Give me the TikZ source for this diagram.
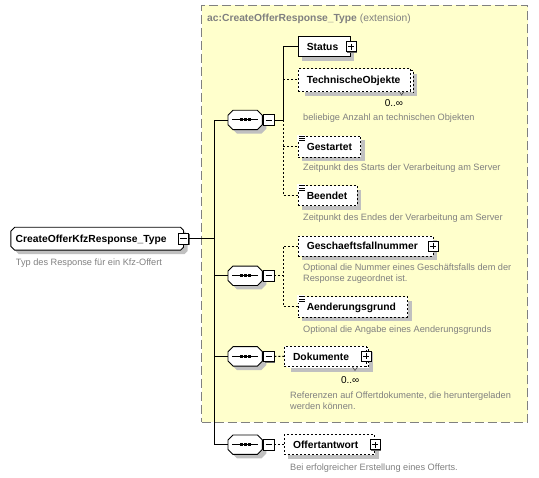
\documentclass[tikz,border=0pt]{standalone}
\usepackage{fontspec}
\setmainfont{Liberation Sans}
\usetikzlibrary{fit}
\definecolor{ybg}{HTML}{FFFFCC}
\definecolor{shgray}{HTML}{C0C0C0}
\definecolor{bordergray}{HTML}{808080}
\definecolor{descgray}{HTML}{808080}
\definecolor{titlegray}{HTML}{808080}
\tikzset{
  ln/.style={line width=0.9pt},
  opt/.style={dash pattern=on 2pt off 2pt},
  shadowfour/.style={preaction={fill=shgray, transform canvas={xshift=4pt, yshift=-4pt}}},
  extbox/.style={draw=bordergray, line width=0.9pt, dash pattern=on 9pt off 4pt, fill=ybg, inner sep=0pt},
  elembox/.style={draw, fill=white, line width=0.9pt, inner sep=0pt, shadowfour},
  elemns/.style={draw, fill=white, line width=0.9pt, inner sep=0pt},
  backbox/.style={fill=white, inner sep=0pt, shadowfour},
  seqn/.style={minimum width=34pt, minimum height=19pt, inner sep=0pt},
  lbl/.style={inner sep=0pt, anchor=west, text height=7.4pt, text depth=0pt,
    font=\fontsize{10.3}{12}\selectfont\bfseries},
  desc/.style={inner sep=0pt, anchor=base west, text=descgray,
    font=\fontsize{9.2}{11}\selectfont},
  mult/.style={inner sep=0pt, anchor=base east, font=\fontsize{10}{12}\selectfont},
  pmbox/.style={draw, fill=white, line width=0.8pt, solid, minimum size=10pt, inner sep=0pt,
    preaction={fill=black!60, transform canvas={xshift=1pt, yshift=-1pt}}},
  pmplus/.style={pmbox, path picture={\draw[line width=0.8pt]
    ([xshift=2pt]path picture bounding box.west) -- ([xshift=-2pt]path picture bounding box.east)
    ([yshift=-2pt]path picture bounding box.north) -- ([yshift=2pt]path picture bounding box.south);}},
  pmminus/.style={pmbox, path picture={\draw[line width=0.8pt]
    ([xshift=2pt]path picture bounding box.west) -- ([xshift=-2pt]path picture bounding box.east);}},
}
\newcommand\seqshape[1]{%
  \draw[ln, fill=white, shadowfour]
    ([xshift=5pt]#1.north west) -- ([xshift=-5pt]#1.north east) -- ([yshift=-5pt]#1.north east)
    -- ([yshift=5pt]#1.south east) -- ([xshift=-5pt]#1.south east) -- ([xshift=5pt]#1.south west)
    -- ([yshift=5pt]#1.south west) -- ([yshift=-5pt]#1.north west) -- cycle;
  \draw[line width=1pt] ([xshift=4pt]#1.west) -- ([xshift=-4pt]#1.east);
  \foreach \dx in {-4,0,4} {\fill ([xshift=\dx pt]#1.center) +(-1.6pt,-1.5pt) rectangle +(1.6pt,1.5pt);}
}
\newcommand\docicon[1]{%
  \fill[white] ([xshift=-1pt,yshift=1pt]#1.north west) rectangle ++(8.5pt,-7.5pt);
  \draw[line width=0.7pt] ([xshift=1.5pt,yshift=-0.5pt]#1.north west) -- ++(5.5pt,0pt)
    ([xshift=1.5pt,yshift=-2.8pt]#1.north west) -- ++(5.5pt,0pt)
    ([xshift=1.5pt,yshift=-5.1pt]#1.north west) -- ++(5.5pt,0pt);
}
\begin{document}
\begin{tikzpicture}[x=1pt,y=-1pt]
\useasboundingbox (0,0) rectangle (539,478);

% extension area
\node[extbox, fit={(201.5,5) (527.5,422.3)}] (ext) {};
\node[anchor=base west, inner sep=0pt, text=titlegray, font=\fontsize{10.3}{12}\selectfont\bfseries]
  (title) at (207,22) {ac:CreateOfferResponse\_Type \mdseries(extension)};

% main type
\node[fit={(11,227.5) (183.3,250)}, inner sep=0pt] (main) {};
\draw[ln, fill=white, shadowfour]
  ([xshift=4pt]main.north west) -- ([xshift=-3pt]main.north east) -- ([yshift=-3pt]main.north east)
  -- ([yshift=3pt]main.south east) -- ([xshift=-3pt]main.south east) -- ([xshift=4pt]main.south west)
  -- ([yshift=4pt]main.south west) -- ([yshift=-4pt]main.north west) -- cycle;
\node[lbl] (main-t) at ([xshift=4.7pt]main.west) {CreateOfferKfzResponse\_Type};
\node[pmminus, minimum size=10.5pt] (main-m) at (main.east) {};
\node[desc] (main-d) at (15.7,266) {Typ des Response für ein Kfz-Offert};

% trunk
\coordinate (trunk) at (214.3,0);
\coordinate (itr) at (283.3,0);

% sequences
\node[seqn] (s1) at (245.2,120) {};
\node[seqn] (s2) at (245.2,275.8) {};
\node[seqn] (s3) at (245.2,356.4) {};
\node[seqn] (s4) at (245.2,444.7) {};
\draw[ln] (main-m.east) -- (main-m.east -| trunk);
\draw[ln] (s1.west) -- (s1.west -| trunk) -- (s4.west -| trunk) -- (s4.west);
\draw[ln] (s2.west -| trunk) -- (s2.west);
\draw[ln] (s3.west -| trunk) -- (s3.west);
\seqshape{s1}
\seqshape{s2}
\seqshape{s3}
\seqshape{s4}
\node[pmminus, minimum size=10.5pt] (s1-m) at (268.8,120) {};
\node[pmminus, minimum size=10.5pt] (s2-m) at (268.8,275.8) {};
\node[pmminus, minimum size=10.5pt] (s3-m) at (268.8,356.4) {};
\node[pmminus, minimum size=10.5pt] (s4-m) at (268.8,444.7) {};

% elements of sequence 1
\node[elembox, fit={(298.3,36.7) (350,56.7)}] (status) {};
\node[lbl] (status-t) at ([xshift=8.7pt]status.west) {Status};
\node[pmplus] (status-p) at ([xshift=0.5pt]status.east) {};

\node[backbox, fit={(301,70.3) (413.3,92.5)}] (tech-b) {};
\node[elemns, opt, fit={(298.3,68.7) (410.6,91)}] (tech) {};
\draw[line width=0.9pt, opt] (tech.east |- tech-b.north) -- (tech-b.north east) -- (tech-b.south east);
\node[lbl] (tech-t) at ([xshift=8.7pt]tech.west) {TechnischeObjekte};
\draw[line width=0.6pt, black!70] (399.5,91.5) -- (401.5,95) -- (404,91.5);
\node[mult] (tech-n) at (403.3,106.5) {0..∞};
\node[desc] (tech-d) at (303,121) {beliebige Anzahl an technischen Objekten};

\node[elembox, opt, fit={(298.3,136) (360.7,157)}] (gest) {};
\docicon{gest}
\node[lbl] (gest-t) at ([xshift=8.7pt]gest.west) {Gestartet};
\node[desc] (gest-d) at (303,170.6) {Zeitpunkt des Starts der Verarbeitung am Server};

\node[elembox, opt, fit={(298.3,185.7) (357,205.7)}] (been) {};
\docicon{been}
\node[lbl] (been-t) at ([xshift=8.7pt]been.west) {Beendet};
\node[desc] (been-d) at (303,221) {Zeitpunkt des Endes der Verarbeitung am Server};

\draw[ln] (s1-m.east) -- (s1-m.east -| itr);
\draw[ln] (status.west) -| (s1-m.east -| itr);
\draw[ln, opt] (s1-m.east -| itr) |- (been.west);
\draw[ln, opt] (tech.west -| itr) -- (tech.west);
\draw[ln, opt] (gest.west -| itr) -- (gest.west);

% elements of sequence 2
\node[elembox, opt, fit={(298.3,236) (433,256)}] (gesch) {};
\node[lbl] (gesch-t) at ([xshift=8.7pt]gesch.west) {Geschaeftsfallnummer};
\node[pmplus] (gesch-p) at (gesch.east) {};
\node[desc] (gesch-d1) at (303,270.6) {Optional die Nummer eines Geschäftsfalls dem der};
\node[desc] (gesch-d2) at (303,281.4) {Response zugeordnet ist.};

\node[elembox, opt, fit={(298.3,296.7) (407.5,317)}] (aend) {};
\docicon{aend}
\node[lbl] (aend-t) at ([xshift=8.7pt]aend.west) {Aenderungsgrund};
\node[desc] (aend-d) at (303,333) {Optional die Angabe eines Aenderungsgrunds};

\draw[ln, opt] (s2-m.east) -- (s2-m.east -| itr);
\draw[ln, opt] (gesch.west) -| (aend.west -| itr) -- (aend.west);

% sequence 3
\node[backbox, fit={(287,348) (368.7,368)}] (doku-b) {};
\node[elemns, opt, fit={(284.3,346.3) (366,366.5)}] (doku) {};
\draw[line width=0.9pt, opt] (doku.east |- doku-b.north) -- (doku-b.north east) -- (doku-b.south east);
\node[lbl] (doku-t) at ([xshift=9pt]doku.west) {Dokumente};
\node[pmplus] (doku-p) at (doku.east) {};
\draw[line width=0.6pt, black!70] (352.5,367) -- (355,370.5) -- (357.5,367);
\node[mult] (doku-n) at (359.5,383.5) {0..∞};
\node[desc] (doku-d1) at (290,398.6) {Referenzen auf Offertdokumente, die heruntergeladen};
\node[desc] (doku-d2) at (290,409.6) {werden können.};
\draw[ln, opt] (s3-m.east) -- (doku.west);

% sequence 4
\node[elembox, opt, fit={(284.3,434.7) (374.5,454.7)}] (offert) {};
\node[lbl] (offert-t) at ([xshift=9pt]offert.west) {Offertantwort};
\node[pmplus] (offert-p) at (offert.east) {};
\node[desc] (offert-d) at (290,470.3) {Bei erfolgreicher Erstellung eines Offerts.};
\draw[ln, opt] (s4-m.east) -- (offert.west);
\end{tikzpicture}
\end{document}
